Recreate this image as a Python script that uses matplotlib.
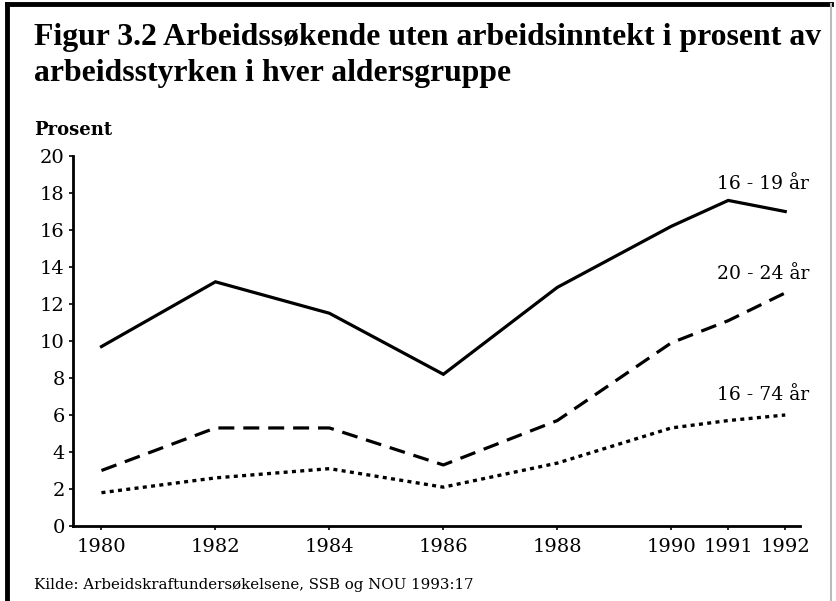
import matplotlib.pyplot as plt

years = [1980, 1982, 1984, 1986, 1988, 1990, 1991, 1992]
age_16_19 = [9.7, 13.2, 11.5, 8.2, 12.9, 16.2, 17.6, 17.0]
age_20_24 = [3.0, 5.3, 5.3, 3.3, 5.7, 9.9, 11.1, 12.6]
age_16_74 = [1.8, 2.6, 3.1, 2.1, 3.4, 5.3, 5.7, 6.0]
labels = ['16 - 19 år', '20 - 24 år', '16 - 74 år']
label_y = [18.5, 13.6, 7.1]
yticks = list(range(0, 21, 2))

plt.rcParams['font.family'] = 'DejaVu Serif'

fig = plt.figure(figsize=(8.36, 6.01), dpi=100)
ax = fig.add_axes([0.0873, 0.1248, 0.957 - 0.0873, 0.7404 - 0.1248])

ax.plot(years, age_16_19, color='black', linewidth=2.3, solid_joinstyle='miter')
ax.plot(years, age_20_24, color='black', linewidth=2.3, linestyle=(0, (5, 2.8)))
ax.plot(years, age_16_74, color='black', linewidth=2.4, linestyle=(0, (1.2, 1.3)))

# series labels near the right end
for lab, ly in zip(labels, label_y):
    ax.text(1990.8, ly, lab, fontsize=13.5, ha='left', va='center')

ax.set_xlim(1979.5, 1992.26)
ax.set_ylim(0, 20)
ax.set_xticks(years)
ax.set_xticklabels([str(y) for y in years])
ax.set_yticks(yticks)

for s in ['top', 'right']:
    ax.spines[s].set_visible(False)
ax.spines['left'].set_linewidth(2)
ax.spines['bottom'].set_linewidth(2)
ax.tick_params(axis='y', direction='out', length=3, width=1.2, pad=3, labelsize=14)
ax.tick_params(axis='x', direction='out', length=3, width=1.2, pad=6, labelsize=14)

# title and texts
title_font = 'Liberation Serif'
fig.text(0.041, 0.938, 'Figur 3.2 Arbeidssøkende uten arbeidsinntekt i prosent av',
         fontsize=22.9, fontweight='bold', family=title_font, ha='left', va='center')
fig.text(0.041, 0.878, 'arbeidsstyrken i hver aldersgruppe',
         fontsize=22.9, fontweight='bold', family=title_font, ha='left', va='center')
fig.text(0.041, 0.783, 'Prosent', fontsize=13, fontweight='bold', ha='left', va='center')
fig.text(0.041, 0.027, 'Kilde: Arbeidskraftundersøkelsene, SSB og NOU 1993:17',
         fontsize=10.8, ha='left', va='center')

# frame around the figure
fig.add_artist(plt.Line2D([0.008, 0.008], [0, 0.993], transform=fig.transFigure,
                          color='black', linewidth=3.5))
fig.add_artist(plt.Line2D([0.008, 0.994], [0.993, 0.993], transform=fig.transFigure,
                          color='black', linewidth=3.5))
fig.add_artist(plt.Line2D([0.994, 0.994], [0, 0.993], transform=fig.transFigure,
                          color='#bbbbbb', linewidth=1.5))

fig.savefig('out.png', dpi=100, facecolor='white')
